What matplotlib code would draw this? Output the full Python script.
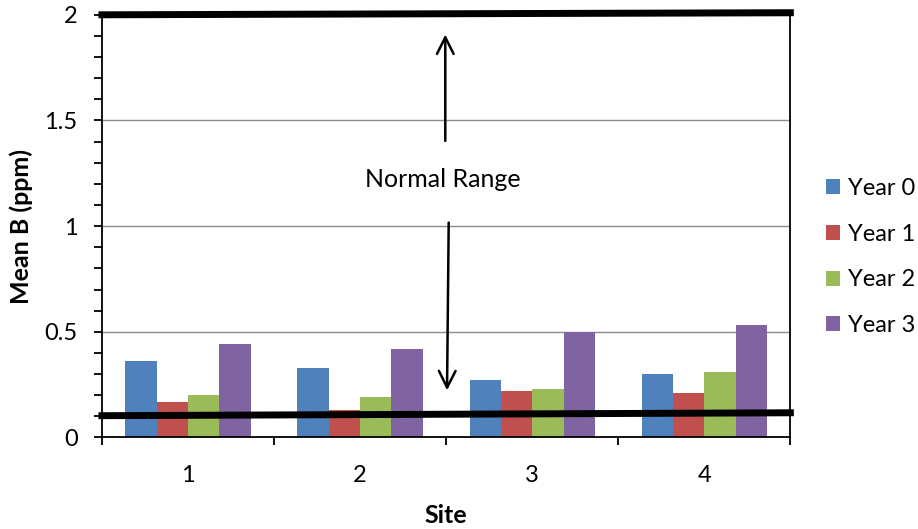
import numpy as np
import matplotlib
matplotlib.use('Agg')
import matplotlib.pyplot as plt
from matplotlib.ticker import MultipleLocator

plt.rcParams['font.family'] = ['Lato', 'DejaVu Sans']

# data
sites = ['1', '2', '3', '4']
years = ['Year 0', 'Year 1', 'Year 2', 'Year 3']
year0 = [0.36, 0.33, 0.27, 0.30]
year1 = [0.17, 0.13, 0.22, 0.21]
year2 = [0.20, 0.19, 0.23, 0.31]
year3 = [0.44, 0.42, 0.50, 0.53]
colors = ['#4F81BD', '#C0504D', '#9BBB59', '#8064A2']

# hand-drawn normal range limits (slightly sloped in the original)
low_limit = [0.103, 0.117]
high_limit = [2.0, 2.01]

fig = plt.figure(figsize=(9.18, 5.29), dpi=100)
ax = fig.add_axes([0.111, 0.173, 0.750, 0.799])

x = np.arange(1, len(sites) + 1)
w = 0.182
series = [year0, year1, year2, year3]
for i, vals in enumerate(series):
    ax.bar(x + (i - 1.5) * w, vals, w, color=colors[i], label=years[i], zorder=2)

ax.set_xlim(0.5, 4.5)
ax.set_ylim(0, 2)
ax.yaxis.set_minor_locator(MultipleLocator(0.1))
ax.set_yticks([0, 0.5, 1, 1.5, 2])
ax.set_yticklabels(['0', '0.5', '1', '1.5', '2'])
ax.set_xticks(x)
ax.set_xticklabels(sites)
ax.set_xticks([0.5, 1.5, 2.5, 3.5, 4.5], minor=True)
ax.tick_params(axis='x', which='major', length=0, pad=20, labelsize=17)
ax.tick_params(axis='x', which='minor', length=6, width=1.3, direction='out')
ax.tick_params(axis='y', which='both', length=5.5, width=1.3, direction='out', labelsize=17, pad=12)
ax.grid(axis='y', which='major', color='#8c8c8c', linewidth=1, zorder=0)
for s in ax.spines.values():
    s.set_color('black')
    s.set_linewidth(1.3)
ax.spines['top'].set_visible(False)

ax.set_ylabel('Mean B (ppm)', fontsize=18, fontweight='bold', labelpad=8)
ax.set_xlabel('Site', fontsize=18, fontweight='bold', labelpad=13)

# normal range lines and arrows
ax.plot([0.48, 4.52], low_limit, color='black', linewidth=5, solid_capstyle='butt', clip_on=False, zorder=5)
ax.plot([0.48, 4.52], high_limit, color='black', linewidth=5, solid_capstyle='butt', clip_on=False, zorder=5)
ax.annotate('', xy=(2.495, 1.92), xytext=(2.495, 1.39),
            arrowprops=dict(arrowstyle='->', color='black', lw=1.8, mutation_scale=30))
ax.annotate('', xy=(2.505, 0.21), xytext=(2.515, 1.03),
            arrowprops=dict(arrowstyle='->', color='black', lw=1.8, mutation_scale=30))
ax.text(2.48, 1.22, 'Normal Range', fontsize=18, ha='center', va='center')

ax.legend(loc='center left', bbox_to_anchor=(1.0, 0.427), frameon=False, fontsize=17,
          handlelength=0.6, handleheight=0.6, handletextpad=0.35, labelspacing=1.05,
          borderaxespad=1.1)

fig.savefig('out.png', dpi=100)
